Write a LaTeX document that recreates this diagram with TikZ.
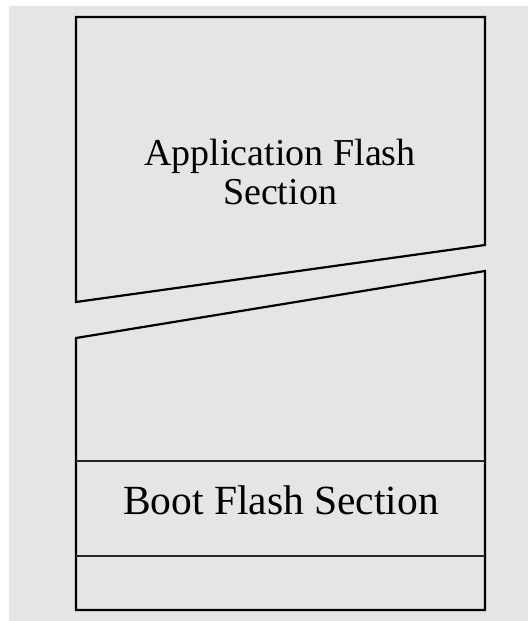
\documentclass[tikz,border=0pt]{standalone}
\usepackage{fontspec}
\setmainfont{Liberation Serif}
\begin{document}
\begin{tikzpicture}[x=1pt,y=-1pt,
  outline/.style={draw=black,line width=2.2pt,line join=miter},
  divider/.style={draw=black!85,line width=2.2pt},
  lbl/.style={anchor=base,inner sep=0pt,text=black}]
\useasboundingbox (0,0) rectangle (528,621);
\fill[white] (0,0) rectangle (528,621);
\fill[black!10] (9,6) rectangle (528,621);
% upper piece
\draw[outline] (76,302) coordinate (ul) -- (76,17) coordinate (tl) -- (485,17) coordinate (tr) -- (485,245) coordinate (ur) -- cycle;
% lower piece
\draw[outline] (76,338) coordinate (ll) -- (485,271) coordinate (lr) -- (485,610) coordinate (br) -- (76,610) coordinate (bl) -- cycle;
\coordinate (d1l) at (76,461); \coordinate (d1r) at (485,461);
\coordinate (d2l) at (76,556); \coordinate (d2r) at (485,556);
\draw[divider] (d1l) -- (d1r);
\draw[divider] (d2l) -- (d2r);
\node[lbl,font=\fontsize{38}{39}\selectfont] (app1) at (280,165) {Application Flash};
\node[lbl,font=\fontsize{38}{39}\selectfont] (app2) at (280,204) {Section};
\node[lbl,font=\fontsize{41.5}{44}\selectfont] (boot) at (281,514) {Boot Flash Section};
\end{tikzpicture}
\end{document}
